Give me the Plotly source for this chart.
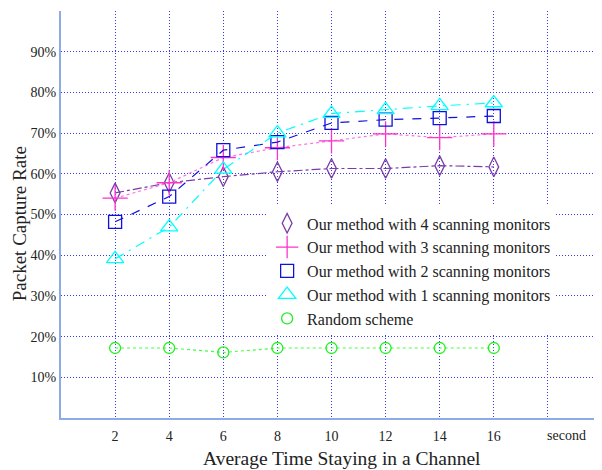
import plotly.graph_objects as go

x_vals = [2, 4, 6, 8, 10, 12, 14, 16]
m4 = [0.553, 0.578, 0.593, 0.605, 0.613, 0.613, 0.620, 0.617]
m3 = [0.540, 0.578, 0.640, 0.664, 0.681, 0.698, 0.689, 0.698]
m2 = [0.482, 0.544, 0.658, 0.678, 0.725, 0.733, 0.737, 0.742]
m1 = [0.391, 0.469, 0.611, 0.700, 0.748, 0.757, 0.767, 0.774]
rnd = [0.172, 0.172, 0.161, 0.172, 0.172, 0.172, 0.172, 0.172]

names = ["Our method with 4 scanning monitors",
         "Our method with 3 scanning monitors",
         "Our method with 2 scanning monitors",
         "Our method with 1 scanning monitors",
         "Random scheme"]
series = [m4, m3, m2, m1, rnd]
colors = ["#7A3CA8", "#FF33CC", "#1010DD", "#00FFFF", "#22EE22"]
line_colors = ["#7A3CA8", "#FF77DD", "#1010DD", "#00FFFF", "#44FF44"]
dashes = ["dashdot", "dot", "dash", "10px,6px,2px,6px", "dot"]
symbols = ["diamond-tall-open", "cross-thin-open", "square-open", "triangle-up-open", "circle-open"]
sizes = [14, 18, 13, 15, 11]

xtick_vals = [2, 4, 6, 8, 10, 12, 14, 16, 18]
xtick_text = ["2", "4", "6", "8", "10", "12", "14", "16", ""]
ytick_vals = [0.1, 0.2, 0.3, 0.4, 0.5, 0.6, 0.7, 0.8, 0.9, 1.0]
ytick_text = ["10%", "20%", "30%", "40%", "50%", "60%", "70%", "80%", "90%", ""]
x_title = "Average Time Staying in a Channel"
y_title = "Packet Capture Rate"
x_unit = "second"

FONT = "Liberation Serif"
GRID = "#3535FF"
AXIS = "#8FAAE8"

fig = go.Figure()
for ys, c, lc, d, s, sz in zip(series, colors, line_colors, dashes, symbols, sizes):
    fig.add_trace(go.Scatter(
        x=x_vals, y=ys, mode="lines+markers", showlegend=False,
        line=dict(color=lc, width=1.2, dash=d),
        marker=dict(symbol=s, size=sz, color=c, line=dict(color=c, width=1.3)),
    ))
for n, c, s, sz in zip(names, colors, symbols, sizes):
    fig.add_trace(go.Scatter(
        x=[None], y=[None], mode="markers", name=n,
        marker=dict(symbol=s, size=sz, color=c, line=dict(color=c, width=1.3)),
    ))

# page body has an 8px default margin; compensate so the plot area lands at
# left 61, top 11, bottom 418, right 602 in the window
fig.update_layout(
    width=602, height=470,
    margin=dict(l=53, r=8, t=3, b=60, autoexpand=False),
    paper_bgcolor="white", plot_bgcolor="white",
    font=dict(family=FONT, size=14, color="#222"),
    showlegend=True,
    legend=dict(x=0.381, y=0.52, xanchor="left", yanchor="top",
                bgcolor="white", borderwidth=0,
                font=dict(family=FONT, size=16, color="#222"),
                tracegroupgap=0, itemwidth=30),
    xaxis=dict(range=[0, 20], tickvals=xtick_vals, ticktext=xtick_text,
               showgrid=True, gridcolor=GRID, griddash="1px,2px", gridwidth=1,
               showline=True, linecolor=AXIS, linewidth=2,
               zeroline=False, ticks="outside", ticklen=4, tickcolor="rgba(0,0,0,0)",
               tickfont=dict(family=FONT, size=14), automargin=False),
    yaxis=dict(range=[0, 1], tickvals=ytick_vals, ticktext=ytick_text,
               showgrid=True, gridcolor=GRID, griddash="1px,2px", gridwidth=1,
               showline=True, linecolor=AXIS, linewidth=2,
               zeroline=False, ticks="", tickfont=dict(family=FONT, size=14),
               automargin=False),
)
fig.add_annotation(x=18.7, y=0, xref="x", yref="y", text=x_unit, showarrow=False,
                   xanchor="center", yanchor="top", yshift=-8,
                   font=dict(family=FONT, size=14, color="#222"))
fig.add_annotation(x=0.519, y=0, xref="paper", yref="paper", text=x_title,
                   showarrow=False, xanchor="center", yanchor="middle", yshift=-40,
                   font=dict(family=FONT, size=19.5, color="#222"))
fig.add_annotation(x=0, y=0.476, xref="paper", yref="paper", text=y_title,
                   showarrow=False, textangle=-90, xanchor="center", yanchor="middle",
                   xshift=-42, borderpad=0, font=dict(family=FONT, size=19, color="#222"))

fig.write_html("out.html")
